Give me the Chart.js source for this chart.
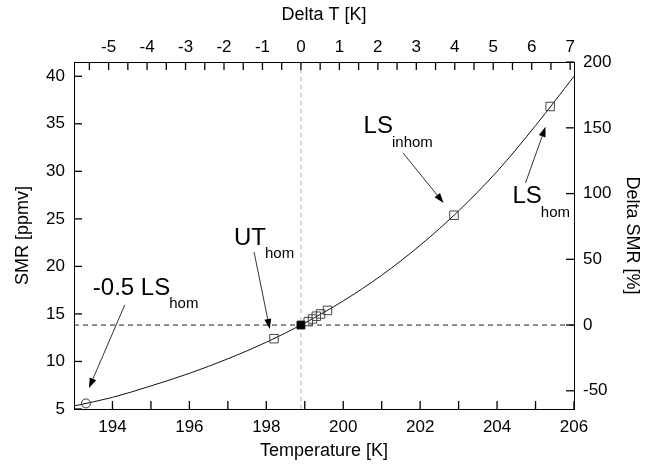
<!DOCTYPE html>
<html>
<head>
<meta charset="utf-8">
<script src="https://cdn.jsdelivr.net/npm/chart.js@4.4.1/dist/chart.umd.min.js"></script>
<style>
  body { margin: 0; background: #fff; }
  canvas { display: block; }
</style>
</head>
<body>
<canvas id="smr-chart" width="655" height="468"></canvas>
<script>
// --- data ---
const curveT = [193, 194, 195, 196, 197, 198, 199, 200, 201, 202, 203, 204, 205, 206];
const curveSMR = [5.32, 6.22, 7.43, 8.75, 10.28, 12.02, 14.05, 16.37, 19.07, 22.22, 25.84, 29.99, 34.81, 40.0];

// open squares (cases)
const caseT = [198.2, 199.09, 199.2, 199.3, 199.41, 199.59, 202.88, 205.38];
const caseSMR = [12.4, 14.19, 14.47, 14.76, 15.0, 15.37, 25.38, 36.82];

// filled square = reference state
const refT = 198.9;
const refSMR = 13.83;

// open circle (-0.5 LS hom)
const halfT = [193.31];
const halfSMR = [5.59];

// axis ranges and tick values
const tMin = 193, tMax = 206;
const smrMin = 5, smrMax = 41.5;
const tTicks = [194, 195, 196, 197, 198, 199, 200, 201, 202, 203, 204, 205, 206];
const dTTicks = [-5.5, -5, -4.5, -4, -3.5, -3, -2.5, -2, -1.5, -1, -0.5, 0, 0.5, 1, 1.5, 2, 2.5, 3, 3.5, 4, 4.5, 5, 5.5, 6, 6.5, 7];
const smrTicks = [5, 10, 15, 20, 25, 30, 35, 40];
const dSmrTicks = [-50, 0, 50, 100, 150, 200];

// annotations (text position and arrow, in data units)
const notes = [
    { text: '-0.5 LS', sub: 'hom', t: 193.49, s: 17.74, from: [194.32, 15.95], to: [193.39, 7.21] },
    { text: 'UT', sub: 'hom', t: 197.16, s: 23.0, from: [197.68, 21.53], to: [198.09, 13.42] },
    { text: 'LS', sub: 'inhom', t: 200.53, s: 34.68, from: [201.55, 31.95], to: [202.61, 26.68] },
    { text: 'LS', sub: 'hom', t: 204.40, s: 27.32, from: [204.74, 28.79], to: [205.26, 34.68] }
];

const FONT = "'Liberation Sans', Arial, Helvetica, sans-serif";
const toPts = (xs, ys) => xs.map((x, i) => ({ x: x, y: ys[i] }));
const setTicks = (vals) => (scale) => { scale.ticks = vals.map(v => ({ value: v })); };

// inward tick marks (gnuplot style)
const tickMarksPlugin = {
    id: 'tickMarks',
    afterDraw(chart) {
        const ctx = chart.ctx;
        const a = chart.chartArea;
        const len = 8;
        ctx.save();
        ctx.setLineDash([]);
        ctx.strokeStyle = '#000';
        ctx.lineWidth = 1.3;
        tTicks.forEach(v => {
            const p = chart.scales.x.getPixelForValue(v);
            ctx.beginPath(); ctx.moveTo(p, a.bottom); ctx.lineTo(p, a.bottom - len); ctx.stroke();
        });
        dTTicks.forEach(v => {
            const p = chart.scales.x2.getPixelForValue(v);
            ctx.beginPath(); ctx.moveTo(p, a.top); ctx.lineTo(p, a.top + len); ctx.stroke();
        });
        smrTicks.forEach(v => {
            const p = chart.scales.y.getPixelForValue(v);
            ctx.beginPath(); ctx.moveTo(a.left, p); ctx.lineTo(a.left + len, p); ctx.stroke();
        });
        dSmrTicks.forEach(v => {
            const p = chart.scales.y2.getPixelForValue(v);
            ctx.beginPath(); ctx.moveTo(a.right, p); ctx.lineTo(a.right - len, p); ctx.stroke();
        });
        ctx.restore();
    }
};

// annotation texts with arrows
const notesPlugin = {
    id: 'notes',
    afterDraw(chart) {
        const ctx = chart.ctx;
        const xs = chart.scales.x, ys = chart.scales.y;
        ctx.save();
        notes.forEach(n => {
            const px = xs.getPixelForValue(n.t);
            const py = ys.getPixelForValue(n.s);
            ctx.fillStyle = '#000';
            ctx.textBaseline = 'middle';
            ctx.textAlign = 'left';
            ctx.font = '24px ' + FONT;
            ctx.fillText(n.text, px, py);
            const w = ctx.measureText(n.text).width;
            ctx.font = '15px ' + FONT;
            ctx.fillText(n.sub, px + w - 1, py + 16);

            const x1 = xs.getPixelForValue(n.from[0]), y1 = ys.getPixelForValue(n.from[1]);
            const x2 = xs.getPixelForValue(n.to[0]), y2 = ys.getPixelForValue(n.to[1]);
            const ang = Math.atan2(y2 - y1, x2 - x1);
            const head = 10, half = 3.5;
            ctx.strokeStyle = '#333';
            ctx.lineWidth = 1;
            ctx.beginPath();
            ctx.moveTo(x1, y1);
            ctx.lineTo(x2 - head * Math.cos(ang), y2 - head * Math.sin(ang));
            ctx.stroke();
            ctx.beginPath();
            ctx.moveTo(x2, y2);
            ctx.lineTo(x2 - head * Math.cos(ang) + half * Math.sin(ang), y2 - head * Math.sin(ang) - half * Math.cos(ang));
            ctx.lineTo(x2 - head * Math.cos(ang) - half * Math.sin(ang), y2 - head * Math.sin(ang) + half * Math.cos(ang));
            ctx.closePath();
            ctx.fill();
        });
        ctx.restore();
    }
};

const fixSize = (w, h) => (scale) => {
    if (w !== null) scale.width = w;
    if (h !== null) scale.height = h;
};

const border = { display: true, color: '#000', width: 1 };
const grid = { display: true, drawOnChartArea: false, drawTicks: false };
const tickFont = { family: FONT, size: 17 };
const titleFont = { family: FONT, size: 18 };

new Chart(document.getElementById('smr-chart').getContext('2d'), {
    type: 'scatter',
    data: {
        datasets: [
            {
                label: 'reference',
                data: [{ x: refT, y: refSMR }],
                pointStyle: 'rect',
                pointRadius: 5.5,
                backgroundColor: '#000',
                borderColor: '#000',
                borderWidth: 1
            },
            {
                label: 'cases',
                data: toPts(caseT, caseSMR),
                pointStyle: 'rect',
                pointRadius: 6,
                backgroundColor: 'rgba(0,0,0,0)',
                borderColor: '#444',
                borderWidth: 1
            },
            {
                label: 'half LS hom',
                data: toPts(halfT, halfSMR),
                pointStyle: 'circle',
                pointRadius: 4.5,
                backgroundColor: 'rgba(0,0,0,0)',
                borderColor: '#333',
                borderWidth: 1
            },
            {
                label: 'SMR curve',
                data: toPts(curveT, curveSMR),
                showLine: true,
                cubicInterpolationMode: 'monotone',
                pointRadius: 0,
                borderColor: '#111',
                borderWidth: 1
            },
            {
                label: 'ref SMR',
                data: [{ x: tMin, y: refSMR }, { x: tMax, y: refSMR }],
                showLine: true,
                pointRadius: 0,
                borderColor: '#222',
                borderWidth: 1,
                borderDash: [5, 4]
            },
            {
                label: 'ref T',
                data: [{ x: refT, y: smrMin }, { x: refT, y: smrMax }],
                showLine: true,
                pointRadius: 0,
                borderColor: '#b0b0b0',
                borderWidth: 1,
                borderDash: [4, 4]
            }
        ]
    },
    options: {
        responsive: false,
        animation: false,
        layout: { padding: 0 },
        plugins: {
            legend: { display: false },
            tooltip: { enabled: false }
        },
        scales: {
            x: {
                type: 'linear',
                position: 'bottom',
                min: tMin,
                max: tMax,
                afterBuildTicks: setTicks(tTicks),
                afterFit: fixSize(null, 59),
                border: border,
                grid: grid,
                ticks: {
                    autoSkip: false,
                    maxRotation: 0,
                    padding: 8,
                    color: '#000',
                    font: tickFont,
                    callback: v => (v % 2 === 0 ? String(v) : '')
                },
                title: { display: true, text: 'Temperature [K]', color: '#000', font: titleFont, padding: { top: 0, bottom: 6 } }
            },
            x2: {
                type: 'linear',
                position: 'top',
                min: tMin - refT,
                max: tMax - refT,
                afterBuildTicks: setTicks(dTTicks),
                afterFit: fixSize(null, 62),
                border: border,
                grid: grid,
                ticks: {
                    autoSkip: false,
                    maxRotation: 0,
                    padding: 4,
                    color: '#000',
                    font: tickFont,
                    callback: v => (Number.isInteger(v) ? String(v) : '')
                },
                title: { display: true, text: 'Delta T [K]', color: '#000', font: titleFont, padding: { top: 4, bottom: 0 } }
            },
            y: {
                type: 'linear',
                position: 'left',
                min: smrMin,
                max: smrMax,
                afterBuildTicks: setTicks(smrTicks),
                afterFit: fixSize(74, null),
                border: border,
                grid: grid,
                ticks: {
                    padding: 9,
                    color: '#000',
                    font: tickFont
                },
                title: { display: true, text: 'SMR [ppmv]', color: '#000', font: titleFont, padding: { top: 12, bottom: 0 } }
            },
            y2: {
                type: 'linear',
                position: 'right',
                min: (smrMin / refSMR - 1) * 100,
                max: (smrMax / refSMR - 1) * 100,
                afterBuildTicks: setTicks(dSmrTicks),
                afterFit: fixSize(81, null),
                border: border,
                grid: grid,
                ticks: {
                    padding: 9,
                    color: '#000',
                    font: tickFont,
                    callback: v => String(Math.round(v))
                },
                title: { display: true, text: 'Delta SMR [%]', color: '#000', font: titleFont, padding: { top: 12, bottom: 0 } }
            }
        }
    },
    plugins: [tickMarksPlugin, notesPlugin]
});
</script>
</body>
</html>
